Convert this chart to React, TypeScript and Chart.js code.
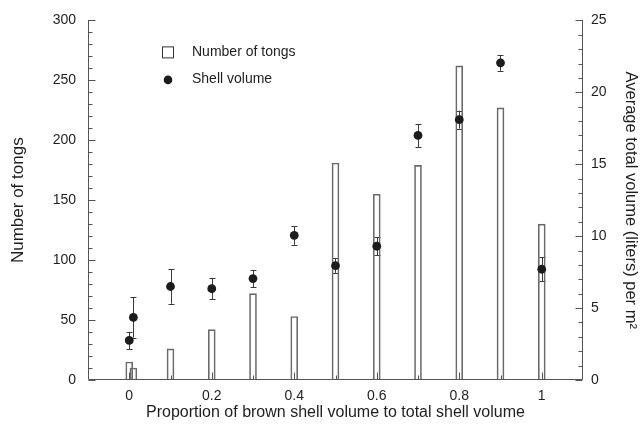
import React, { useEffect, useRef } from 'react';
import { Chart, registerables } from 'chart.js';

Chart.register(...registerables);

// Proportion of brown shell volume (x position of each bar / point)
const proportion = [0, 0.01, 0.1, 0.2, 0.3, 0.4, 0.5, 0.6, 0.7, 0.8, 0.9, 1.0];
// Number of tongs (left axis, bars)
const tongCounts = [15, 10, 26, 42, 72, 53, 181, 155, 179, 262, 227, 130];
// Average total shell volume, liters per m² (right axis, points)
const shellVolume = [2.75, 4.35, 6.5, 6.35, 7.05, 10.05, 7.95, 9.3, 17.0, 18.1, 22.05, 7.7];
// Standard error of the shell volume
const volumeError = [0.6, 1.4, 1.2, 0.75, 0.6, 0.65, 0.5, 0.62, 0.8, 0.62, 0.55, 0.85];

const xTickLabels = ['0', '0.2', '0.4', '0.6', '0.8', '1'];
const leftTickLabels = ['0', '50', '100', '150', '200', '250', '300'];
const rightTickLabels = ['0', '5', '10', '15', '20', '25'];

const FONT = '"Liberation Sans", Arial, Helvetica, sans-serif';
const AXIS_COLOR = '#555555';
const TEXT_COLOR = '#1e1e1e';

// Axis lines with inward-pointing major/minor tick marks
const axisMarks = {
  id: 'axisMarks',
  afterDraw(chart: any) {
    const { ctx, chartArea: a, scales } = chart;
    const L = Math.round(a.left) + 0.5;
    const R = Math.round(a.right) - 0.5;
    const B = Math.round(a.bottom) - 0.5;
    const T = Math.round(a.top);
    ctx.save();
    ctx.strokeStyle = AXIS_COLOR;
    ctx.lineWidth = 1;
    ctx.beginPath();
    ctx.moveTo(L, T);
    ctx.lineTo(L, B);
    ctx.lineTo(R, B);
    ctx.moveTo(R, T);
    ctx.lineTo(R, B);
    // left axis ticks
    scales.y.ticks.forEach((t: any) => {
      const py = Math.round(scales.y.getPixelForValue(t.value)) + 0.5;
      const len = Math.round(t.value) % 50 === 0 ? 7 : 4;
      ctx.moveTo(L, py);
      ctx.lineTo(L + len, py);
    });
    // right axis ticks
    scales.y2.ticks.forEach((t: any) => {
      const py = Math.round(scales.y2.getPixelForValue(t.value)) + 0.5;
      const len = Math.round(t.value) % 5 === 0 ? 7 : 4;
      ctx.moveTo(R, py);
      ctx.lineTo(R - len, py);
    });
    // bottom axis ticks
    scales.x.ticks.forEach((t: any) => {
      const tenth = Math.round(t.value * 10);
      if (tenth < 0 || tenth > 10) return;
      const px = Math.round(scales.x.getPixelForValue(t.value)) + 0.5;
      const len = tenth % 2 === 0 ? 7 : 4;
      ctx.moveTo(px, B);
      ctx.lineTo(px, B - len);
    });
    ctx.stroke();
    ctx.restore();
  },
};

// Vertical error bars with caps for the shell volume points
const errorBars = {
  id: 'errorBars',
  beforeDatasetsDraw(chart: any) {
    const { ctx, scales } = chart;
    ctx.save();
    ctx.strokeStyle = '#3a3a3a';
    ctx.lineWidth = 1;
    ctx.beginPath();
    proportion.forEach((p, i) => {
      const px = Math.round(scales.x.getPixelForValue(p)) + 0.5;
      const top = scales.y2.getPixelForValue(shellVolume[i] + volumeError[i]);
      const bot = scales.y2.getPixelForValue(shellVolume[i] - volumeError[i]);
      ctx.moveTo(px, top);
      ctx.lineTo(px, bot);
      ctx.moveTo(px - 3, Math.round(top) + 0.5);
      ctx.lineTo(px + 3, Math.round(top) + 0.5);
      ctx.moveTo(px - 3, Math.round(bot) + 0.5);
      ctx.lineTo(px + 3, Math.round(bot) + 0.5);
    });
    ctx.stroke();
    ctx.restore();
  },
};

// Legend drawn inside the plot area, upper left
const insideLegend = {
  id: 'insideLegend',
  afterDraw(chart: any) {
    const { ctx, chartArea: a } = chart;
    const x0 = a.left + 74;
    const y0 = a.top + 26;
    ctx.save();
    ctx.strokeStyle = '#333333';
    ctx.lineWidth = 1;
    ctx.strokeRect(x0 + 0.5, y0 + 0.5, 11, 11);
    ctx.fillStyle = '#1c1c1c';
    ctx.beginPath();
    ctx.arc(x0 + 6, y0 + 33.5, 4.3, 0, Math.PI * 2);
    ctx.fill();
    ctx.fillStyle = TEXT_COLOR;
    ctx.font = `14px ${FONT}`;
    ctx.textBaseline = 'middle';
    ctx.textAlign = 'left';
    ctx.fillText('Number of tongs', x0 + 30, y0 + 6);
    ctx.fillText('Shell volume', x0 + 30, y0 + 33);
    ctx.restore();
  },
};

export default function App() {
  const canvasRef = useRef<HTMLCanvasElement | null>(null);

  useEffect(() => {
    const canvas = canvasRef.current;
    if (!canvas) return;

    const chart = new Chart(canvas, {
      type: 'bar',
      data: {
        datasets: [
          {
            type: 'scatter',
            label: 'Shell volume',
            data: proportion.map((p, i) => ({ x: p, y: shellVolume[i] })),
            xAxisID: 'x',
            yAxisID: 'y2',
            pointRadius: 4.4,
            pointHoverRadius: 4.4,
            pointBackgroundColor: '#1c1c1c',
            pointBorderWidth: 0,
            showLine: false,
            order: 0,
          } as any,
          {
            type: 'bar',
            label: 'Number of tongs',
            data: proportion.map((p, i) => ({ x: p, y: tongCounts[i] })),
            xAxisID: 'x',
            yAxisID: 'y',
            barThickness: 7,
            backgroundColor: 'rgba(255,255,255,0)',
            borderColor: '#6a6a6a',
            borderWidth: 1,
            borderSkipped: 'bottom',
            order: 1,
          } as any,
        ],
      },
      options: {
        responsive: false,
        animation: false,
        events: [],
        layout: { padding: { top: 16, left: 0, right: 0, bottom: 0 } },
        plugins: {
          legend: { display: false },
          tooltip: { enabled: false },
        },
        scales: {
          x: {
            type: 'linear',
            position: 'bottom',
            min: -0.1,
            max: 1.1,
            offset: false,
            grid: { display: false, drawTicks: false },
            border: { display: false },
            ticks: {
              stepSize: 0.1,
              autoSkip: false,
              maxRotation: 0,
              padding: 8,
              color: TEXT_COLOR,
              font: { family: FONT, size: 14 },
              callback: (v: any) => {
                const tenth = Math.round(Number(v) * 10);
                if (tenth < 0 || tenth > 10 || tenth % 2 !== 0) return '';
                return xTickLabels[tenth / 2];
              },
            },
            title: {
              display: true,
              text: 'Proportion of brown shell volume to total shell volume',
              color: TEXT_COLOR,
              font: { family: FONT, size: 16 },
              padding: { top: 0, bottom: 7 },
            },
            afterFit: (s: any) => {
              s.height = 49;
            },
          },
          y: {
            type: 'linear',
            position: 'left',
            min: 0,
            max: 300,
            grid: { display: false, drawTicks: false },
            border: { display: false },
            ticks: {
              stepSize: 10,
              autoSkip: false,
              padding: 12,
              color: TEXT_COLOR,
              font: { family: FONT, size: 14 },
              callback: (v: any) => {
                const n = Math.round(Number(v));
                return n % 50 === 0 ? leftTickLabels[n / 50] : '';
              },
            },
            title: {
              display: true,
              text: 'Number of tongs',
              color: TEXT_COLOR,
              font: { family: FONT, size: 17 },
              padding: { top: 8, bottom: 0 },
            },
            afterFit: (s: any) => {
              s.width = 88;
            },
          },
          y2: {
            type: 'linear',
            position: 'right',
            min: 0,
            max: 25,
            grid: { display: false, drawTicks: false },
            border: { display: false },
            ticks: {
              stepSize: 1,
              autoSkip: false,
              padding: 8,
              color: TEXT_COLOR,
              font: { family: FONT, size: 14 },
              callback: (v: any) => {
                const n = Math.round(Number(v));
                return n % 5 === 0 ? rightTickLabels[n / 5] : '';
              },
            },
            title: {
              display: true,
              text: 'Average total volume (liters) per m\u00B2',
              color: TEXT_COLOR,
              font: { family: FONT, size: 16.5 },
              padding: { top: 3, bottom: 0 },
            },
            afterFit: (s: any) => {
              s.width = 60;
            },
          },
        },
      },
      plugins: [errorBars, axisMarks, insideLegend],
    });

    return () => chart.destroy();
  }, []);

  return (
    <div style={{ position: 'fixed', left: 0, top: 0, width: 643, height: 429, background: '#ffffff' }}>
      <canvas ref={canvasRef} width={643} height={429} style={{ display: 'block' }} />
    </div>
  );
}
